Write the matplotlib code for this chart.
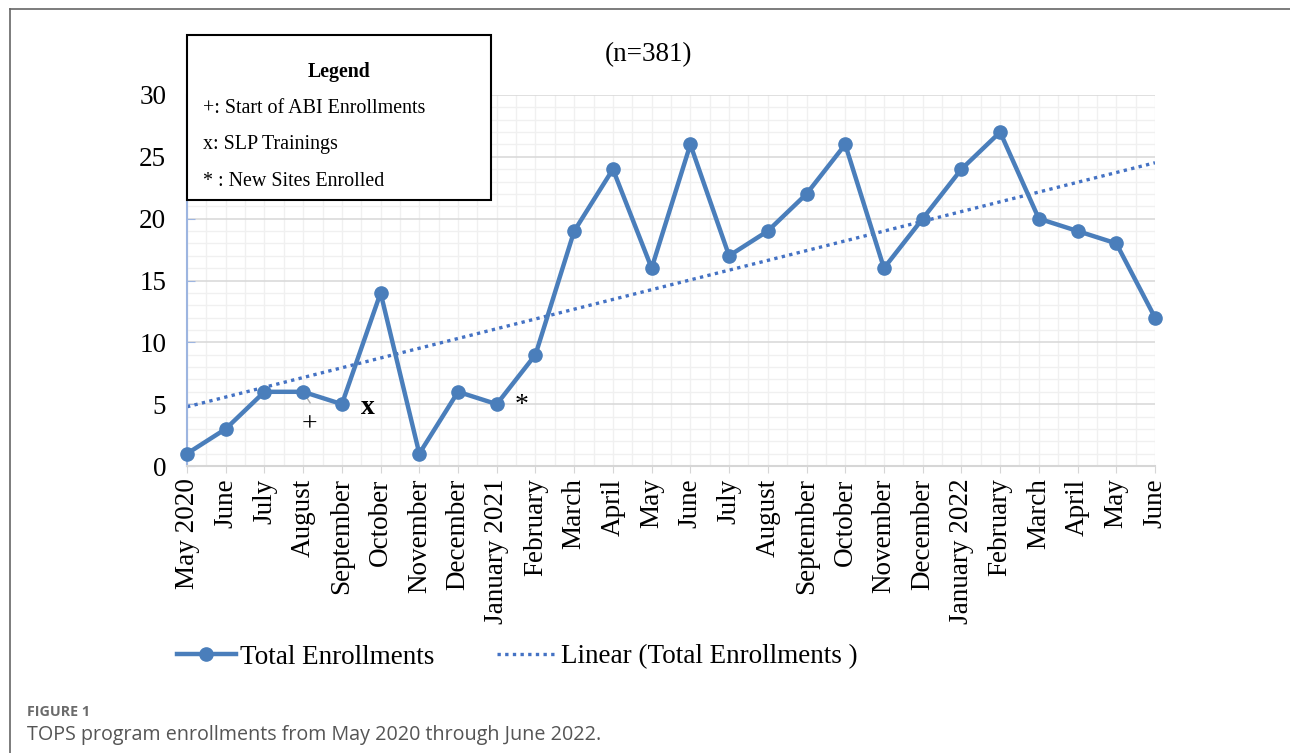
import numpy as np
import matplotlib
matplotlib.use("Agg")
import matplotlib.pyplot as plt
from matplotlib.lines import Line2D
from matplotlib.patches import Rectangle
from matplotlib.ticker import MultipleLocator

months = ["May 2020", "June", "July", "August", "September", "October",
          "November", "December", "January 2021", "February", "March",
          "April", "May", "June", "July", "August", "September", "October",
          "November", "December", "January 2022", "February", "March",
          "April", "May", "June"]
enrollments = [1, 3, 6, 6, 5, 14, 1, 6, 5, 9, 19, 24, 16, 26, 17, 19, 22, 26,
               16, 20, 24, 27, 20, 19, 18, 12]

# event markers: (symbol, x position in month index, y value, bold)
events = [("+", 3.17, 3.35, False), ("x", 4.67, 4.7, True), ("*", 8.65, 4.9, False)]

legend_lines = ["+: Start of ABI Enrollments", "x: SLP Trainings", "* : New Sites Enrolled"]

SERIF = ["Liberation Serif", "DejaVu Serif"]
LINE_BLUE = "#4a7ebb"
TREND_BLUE = "#4472c4"

W, H = 1290, 753
fig = plt.figure(figsize=(W / 100, H / 100), dpi=100)
fig.patch.set_facecolor("white")

ax = fig.add_axes([187 / W, 1 - 466 / H, (1155 - 187) / W, (466 - 95) / H])
x = np.arange(len(months))
ax.set_xlim(0, len(months) - 1)
ax.set_ylim(0, 30)

# grid: major every 5, minor every 1 on y; half-month lines on x
ax.yaxis.set_major_locator(MultipleLocator(5))
ax.yaxis.set_minor_locator(MultipleLocator(1))
ax.xaxis.set_major_locator(MultipleLocator(1))
ax.xaxis.set_minor_locator(MultipleLocator(0.5))
ax.grid(which="minor", color="#f0f0f0", lw=1.0, zorder=0)
ax.grid(which="major", axis="y", color="#dadada", lw=1.2, zorder=0)
ax.grid(which="major", axis="x", color="#f0f0f0", lw=1.0, zorder=0)
ax.set_axisbelow(True)

for s in ["top", "right"]:
    ax.spines[s].set_visible(False)
ax.spines["left"].set_color("#9db5e0")
ax.spines["left"].set_linewidth(1.5)
ax.spines["bottom"].set_color("#d6d6d6")
ax.spines["bottom"].set_linewidth(1.5)

ax.set_xticks(x)
ax.set_xticklabels(months, rotation=90, fontsize=19.5, family=SERIF)
ax.tick_params(axis="x", which="major", length=5, color="#d6d6d6", pad=4)
ax.tick_params(axis="x", which="minor", length=0)
ax.tick_params(axis="y", which="major", direction="in", length=6, color="#9db5e0",
               labelsize=19.5, pad=15)
ax.tick_params(axis="y", which="minor", length=0)
for lab in ax.get_yticklabels():
    lab.set_family(SERIF)

# linear trend fitted to the monthly totals
coef = np.polyfit(x, enrollments, 1)
ax.plot(x, np.polyval(coef, x), linestyle=(0, (1, 1.3)), color=TREND_BLUE, lw=2.4,
        zorder=2, label="Linear (Total Enrollments )")
ax.plot(x, enrollments, color=LINE_BLUE, lw=3.2, marker="o", ms=9.5,
        zorder=3, label="Total Enrollments", clip_on=False)

for sym, ex, ey, bold in events:
    ax.text(ex, ey, sym, fontsize=20, family=SERIF, ha="center", va="center",
            fontweight="bold" if bold else "normal", zorder=4)
ax.plot([3.0, 3.18], [6.0, 5.1], color="#b0b0b0", lw=1, zorder=2.5)

ax.text(0.477, 1.11, "(n=381)", transform=ax.transAxes, fontsize=19.5,
        family=SERIF, ha="center", va="center")

# boxed key for the event symbols
bx0, by0, bx1, by1 = 187, 35, 491, 200
fig.patches.append(Rectangle((bx0 / W, 1 - by1 / H), (bx1 - bx0) / W, (by1 - by0) / H,
                             transform=fig.transFigure, facecolor="white",
                             edgecolor="black", lw=1.5, zorder=5))
fig.text(339 / W, 1 - 72 / H, "Legend", fontsize=14.3, fontweight="bold",
         family=SERIF, ha="center", va="center", zorder=6)
for i, t in enumerate(legend_lines):
    fig.text(203 / W, 1 - (108.5 + 36.5 * i) / H, t, fontsize=14.4, family=SERIF,
             ha="left", va="center", zorder=6)

h, l = ax.get_legend_handles_labels()
fig.legend(h[::-1], l[::-1], loc="center", bbox_to_anchor=(517 / W, 1 - 657 / H),
           ncol=2, frameon=False, prop={"family": SERIF, "size": 19.5},
           handlelength=2.2, handletextpad=0.15, columnspacing=2.3)

# page frame and caption
fig.add_artist(Line2D([10 / W, 10 / W], [0, 1 - 9 / H], color="#666666", lw=1.2,
                      transform=fig.transFigure))
fig.add_artist(Line2D([10 / W, 1], [1 - 9 / H, 1 - 9 / H], color="#666666", lw=1.2,
                      transform=fig.transFigure))
fig.text(27 / W, 1 - 712 / H, "FIGURE 1", fontsize=10.3, fontweight="bold",
         family=["Open Sans", "DejaVu Sans"], color="#6b6b6b", ha="left", va="center")
fig.text(27 / W, 1 - 735 / H, "TOPS program enrollments from May 2020 through June 2022.",
         fontsize=14.2, family=["Open Sans", "DejaVu Sans"], color="#555555",
         ha="left", va="center")

fig.savefig("out.png", dpi=100, facecolor="white")
